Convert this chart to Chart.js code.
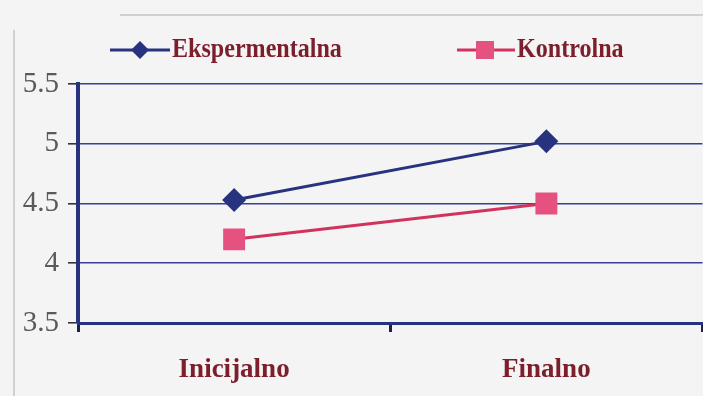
<!DOCTYPE html>
<html>
<head>
<meta charset="utf-8">
<script src="https://cdn.jsdelivr.net/npm/chart.js@4"></script>
<style>
  html, body { margin: 0; padding: 0; background: #f4f4f4; }
  #wrap { width: 703px; height: 396px; position: relative; overflow: hidden; }
  canvas { filter: blur(0.5px); }
</style>
</head>
<body>
<div id="wrap"><canvas id="chart" width="718" height="396"></canvas></div>
<script>
const categories = ['Inicijalno', 'Finalno'];
const eksperimentalna = [4.53, 5.02];
const kontrolna = [4.2, 4.5];
const yTicks = [3.5, 4, 4.5, 5, 5.5];

const NAVY = '#27337e';
const PINK_LINE = '#d2335c';
const PINK = '#e6527f';
const MAROON = '#7c1e2c';

// frame around the plot and a fixed-position legend
const framePlugin = {
  id: 'frame',
  beforeDraw(chart) {
    const ctx = chart.ctx;
    ctx.save();
    ctx.fillStyle = '#f4f4f4';
    ctx.fillRect(0, 0, chart.width, chart.height);
    ctx.strokeStyle = '#d0d0d0';
    ctx.lineWidth = 2;
    ctx.beginPath();
    ctx.moveTo(14, 30);
    ctx.lineTo(14, chart.height);
    ctx.moveTo(120, 15);
    ctx.lineTo(chart.width, 15);
    ctx.stroke();
    ctx.restore();
  },
  afterDraw(chart) {
    const ctx = chart.ctx;
    const items = [
      { x: 110, len: 60, mark: 140, label: 'Ekspermentalna', color: NAVY, marker: 'diamond' },
      { x: 457, len: 58, mark: 485, label: 'Kontrolna', color: PINK_LINE, marker: 'square' }
    ];
    const y = 50;
    ctx.save();
    items.forEach(it => {
      ctx.strokeStyle = it.color;
      ctx.lineWidth = 3;
      ctx.beginPath();
      ctx.moveTo(it.x, y);
      ctx.lineTo(it.x + it.len, y);
      ctx.stroke();
      const cx = it.mark;
      if (it.marker === 'diamond') {
        ctx.fillStyle = NAVY;
        ctx.beginPath();
        ctx.moveTo(cx, y - 9);
        ctx.lineTo(cx + 9, y);
        ctx.lineTo(cx, y + 9);
        ctx.lineTo(cx - 9, y);
        ctx.closePath();
        ctx.fill();
      } else {
        ctx.fillStyle = PINK;
        ctx.fillRect(cx - 9, y - 9, 18, 18);
      }
      ctx.fillStyle = MAROON;
      ctx.font = 'bold 28px "Liberation Serif"';
      ctx.textBaseline = 'middle';
      ctx.save();
      ctx.translate(it.x + it.len + 2, y);
      ctx.scale(0.86, 1);
      ctx.fillText(it.label, 0, 0);
      ctx.restore();
    });
    ctx.restore();
  }
};

new Chart(document.getElementById('chart'), {
  type: 'line',
  data: {
    labels: categories,
    datasets: [
      {
        label: 'Ekspermentalna',
        data: eksperimentalna,
        borderColor: NAVY,
        backgroundColor: NAVY,
        borderWidth: 3,
        pointStyle: 'rectRot',
        pointRadius: 12,
        pointBorderWidth: 0,
        tension: 0
      },
      {
        label: 'Kontrolna',
        data: kontrolna,
        borderColor: PINK_LINE,
        backgroundColor: PINK,
        borderWidth: 3,
        pointStyle: 'rect',
        pointRadius: 15.5,
        pointBorderWidth: 0,
        tension: 0
      }
    ]
  },
  options: {
    responsive: false,
    animation: false,
    layout: { padding: { top: 84, right: 0, left: 0, bottom: 0 } },
    plugins: { legend: { display: false }, tooltip: { enabled: false } },
    scales: {
      x: {
        offset: true,
        afterFit(scale) { scale.height = 73; },
        border: { color: NAVY, width: 3 },
        grid: {
          offset: true,
          drawOnChartArea: false,
          drawTicks: true,
          tickLength: 9,
          tickWidth: 3,
          color: '#1c2250'
        },
        ticks: {
          color: MAROON,
          font: { family: 'Liberation Serif', size: 27, weight: 'bold' },
          padding: 22
        }
      },
      y: {
        min: 3.5,
        max: 5.5,
        afterFit(scale) { scale.width = 78; },
        afterBuildTicks(scale) { scale.ticks = yTicks.map(v => ({ value: v })); },
        border: { color: NAVY, width: 4 },
        grid: {
          color: '#34409a',
          lineWidth: 1.6,
          tickLength: 10,
          tickColor: '#333'
        },
        ticks: {
          color: '#5a5a5a',
          font: { family: 'Liberation Serif', size: 29 },
          padding: 9,
          callback: v => String(v)
        }
      }
    }
  },
  plugins: [framePlugin]
});
</script>
</body>
</html>
